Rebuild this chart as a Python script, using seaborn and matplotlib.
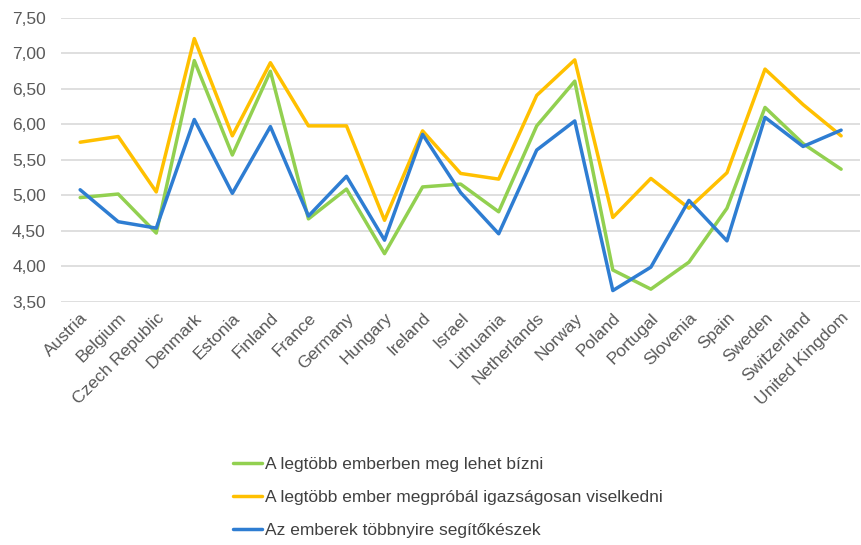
import pandas as pd
import numpy as np
import seaborn as sns
import matplotlib.pyplot as plt
from matplotlib.ticker import FuncFormatter

countries = ["Austria", "Belgium", "Czech Republic", "Denmark", "Estonia", "Finland",
             "France", "Germany", "Hungary", "Ireland", "Israel", "Lithuania",
             "Netherlands", "Norway", "Poland", "Portugal", "Slovenia", "Spain",
             "Sweden", "Switzerland", "United Kingdom"]

bizni = [4.97, 5.02, 4.47, 6.90, 5.57, 6.75, 4.67, 5.09, 4.18, 5.12, 5.16,
         4.77, 5.98, 6.61, 3.95, 3.68, 4.06, 4.82, 6.24, 5.73, 5.37]
igazsagos = [5.75, 5.83, 5.05, 7.21, 5.84, 6.87, 5.98, 5.98, 4.65, 5.91, 5.31,
             5.23, 6.41, 6.91, 4.69, 5.24, 4.82, 5.32, 6.78, 6.28, 5.84]
segitokesz = [5.08, 4.63, 4.54, 6.07, 5.03, 5.97, 4.71, 5.27, 4.37, 5.86, 5.04,
              4.46, 5.64, 6.05, 3.66, 3.99, 4.93, 4.36, 6.10, 5.69, 5.92]

series_names = ["A legtöbb emberben meg lehet bízni",
                "A legtöbb ember megpróbál igazságosan viselkedni",
                "Az emberek többnyire segítőkészek"]
colors = ["#92D050", "#FFC000", "#2E7DD2"]

rows = []
for name, vals in zip(series_names, [bizni, igazsagos, segitokesz]):
    for i, c in enumerate(countries):
        rows.append({"pos": i, "country": c, "value": vals[i], "series": name})
df = pd.DataFrame(rows)

sns.set_theme(style="white")
plt.rcParams['font.family'] = ['Liberation Sans', 'DejaVu Sans']

fig = plt.figure(figsize=(8.61, 5.45), dpi=100)
ax = fig.add_axes([0.071, 0.446, 0.928, 0.521])

sns.lineplot(data=df, x="pos", y="value", hue="series", hue_order=series_names,
             palette=colors, linewidth=2.5, ax=ax, legend=True)

ax.set_xlim(-0.5, len(countries) - 0.5)
ax.set_ylim(3.5, 7.5)
ax.set_yticks(np.arange(3.5, 7.51, 0.5))
ax.yaxis.set_major_formatter(FuncFormatter(lambda v, p: f"{v:.2f}".replace(".", ",")))
ax.set_xticks(range(len(countries)))
ax.set_xticklabels(countries, rotation=45, ha="right", rotation_mode="anchor")
ax.tick_params(axis="both", colors="#595959", labelsize=12.5, length=0)
ax.tick_params(axis="y", pad=11)
ax.tick_params(axis="x", pad=6)
ax.grid(axis="y", color="#D9D9D9", linewidth=1.2)
ax.set_axisbelow(True)
for s in ax.spines.values():
    s.set_visible(False)
ax.set_xlabel("")
ax.set_ylabel("")

handles, labels = ax.get_legend_handles_labels()
ax.legend_.remove()
fig.legend(handles, labels, loc="upper left", bbox_to_anchor=(0.252, 0.19),
           frameon=False, fontsize=12.5, handlelength=1.7, handletextpad=0.15,
           labelspacing=1.03, labelcolor="#404040")

fig.savefig("out.png", dpi=100)
